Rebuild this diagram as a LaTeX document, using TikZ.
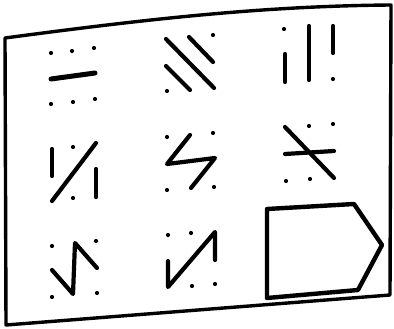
\documentclass[tikz,border=0pt]{standalone}
\begin{document}
\begin{tikzpicture}[x=1pt,y=-1pt,
  frame/.style={line width=3.4pt,line join=round,line cap=round},
  stroke/.style={line width=4.2pt,line cap=round,line join=round},
  dotmark/.style={fill=black}]
\useasboundingbox (0,0) rectangle (394,329);
% card outline
\draw[frame] (5,38) .. controls (140,20) and (260,6) .. (391,5)
  -- (390,295) -- (6,325) -- cycle;
\def\dt(#1){\fill[dotmark] (#1) circle (2.1pt);}
% cell 1
\dt(51,53) \dt(72,51) \dt(94,48)
\draw[stroke,line width=5pt] (51,79) -- (95,73);
\dt(51,104) \dt(73,102) \dt(95,99)
% cell 2
\draw[stroke] (166,39) -- (214,88);
\draw[stroke] (189,37) -- (213,62);
\draw[stroke] (166,66) -- (190,90);
\dt(213,35) \dt(167,91)
% cell 3
\dt(284,29)
\draw[stroke] (285,54) -- (285,82);
\draw[stroke] (309,26) -- (309,80);
\draw[stroke] (333,26) -- (333,53);
\dt(333,79)
% cell 4
\draw[stroke] (52,149) -- (52,176);
\dt(73,147)
\draw[stroke] (96,143) -- (52,201);
\draw[stroke] (96,169) -- (96,197);
\dt(73,198)
% cell 5
\dt(167,137) \dt(213,133)
\draw[stroke] (190,135) -- (167,164) -- (215,158) -- (191,188);
\dt(167,190) \dt(214,187)
% cell 6
\dt(309,126) \dt(333,124)
\draw[stroke] (285,154) -- (334,151);
\draw[stroke] (285,127) -- (334,178);
\dt(286,181) \dt(310,179)
% cell 7
\dt(52,246) \dt(96,241)
\draw[stroke] (52,270) -- (73,294) -- (75,243) -- (97,268);
\dt(52,297) \dt(97,293)
% cell 8
\dt(168,235) \dt(191,233)
\draw[stroke] (168,261) -- (168,287) -- (215,232) -- (215,260);
\dt(192,286) \dt(215,284)
% cell 9 pentagon
\draw[stroke,line width=4.4pt] (267,209) -- (354,204) -- (382,245) -- (358,290) -- (267,298) -- cycle;
\end{tikzpicture}
\end{document}
